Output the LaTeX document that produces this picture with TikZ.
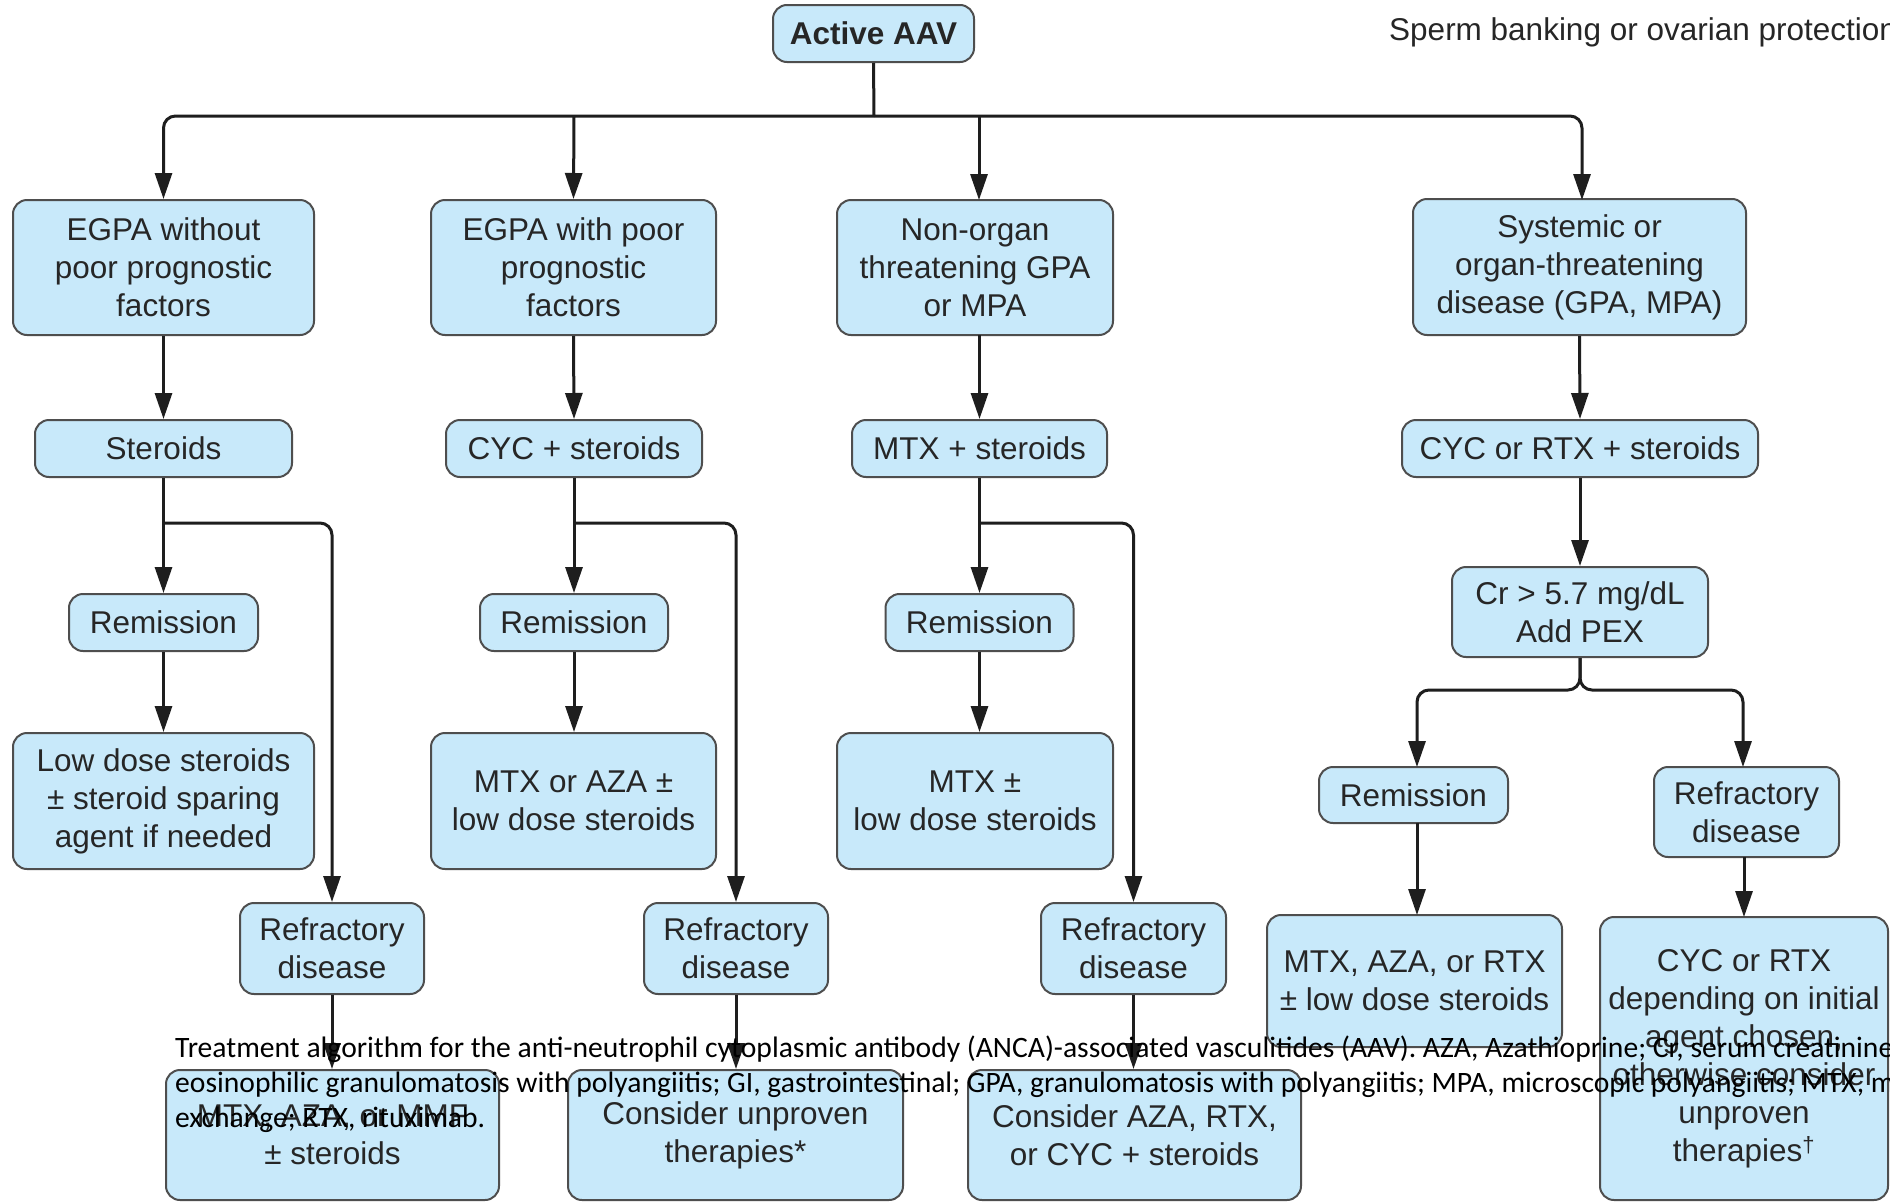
\documentclass[tikz,border=0pt]{standalone}
\usepackage{fontspec}
\setmainfont{Liberation Sans}
\newfontfamily\capfont{Carlito}
\usetikzlibrary{arrows.meta}
\definecolor{boxfill}{HTML}{C8E9FA}
\definecolor{boxline}{HTML}{4E4E4E}
\definecolor{linecol}{HTML}{1E1E1E}
\definecolor{txt}{HTML}{262626}
\begin{document}
\begin{tikzpicture}[x=1pt,y=-1pt,
  bx/.style={draw=boxline, line width=2pt, fill=boxfill, rounded corners=14pt,
    align=center, inner sep=0pt, text=txt, font=\fontsize{31.5}{38}\selectfont},
  boldbx/.style={bx, font=\fontsize{31.5}{38}\selectfont\bfseries},
  arr/.style={draw=linecol, line width=3pt, rounded corners=12pt, -{Triangle[length=26pt,width=17pt]}},
  ln/.style={draw=linecol, line width=3pt, rounded corners=12pt},
  captxt/.style={anchor=base west, inner sep=0pt, text=black, font=\capfont\fontsize{29.6}{35}\selectfont}]
\useasboundingbox (0,0) rectangle (1890,1202);
\clip (0,0) rectangle (1890,1202);
\fill[white] (0,0) rectangle (1890,1202);

% top
\node[boldbx, minimum width=201pt, minimum height=57pt] (act) at (873.5,33.5) {Active AAV};
\node[anchor=base west, inner sep=0pt, text=txt, font=\fontsize{31.5}{38}\selectfont] (sperm) at (1389,40) {Sperm banking or ovarian protection};

% row 1
\node[bx, minimum width=301pt, minimum height=135pt] (b1) at (163.5,267.5) {EGPA without\\poor prognostic\\factors};
\node[bx, minimum width=285pt, minimum height=135pt] (b2) at (573.5,267.5) {EGPA with poor\\prognostic\\factors};
\node[bx, minimum width=276pt, minimum height=135pt] (b3) at (975,267.5) {Non-organ\\threatening GPA\\or MPA};
\node[bx, minimum width=333pt, minimum height=136pt] (b4) at (1579.5,267) {Systemic or\\organ-threatening\\disease (GPA, MPA)\vphantom{g}};

% row 2
\node[bx, minimum width=257pt, minimum height=57pt] (s1) at (163.5,448.5) {Steroids};
\node[bx, minimum width=256pt, minimum height=57pt] (s2) at (574,448.5) {CYC + steroids};
\node[bx, minimum width=255pt, minimum height=57pt] (s3) at (979.5,448.5) {MTX + steroids};
\node[bx, minimum width=356pt, minimum height=57pt] (s4) at (1580,448.5) {CYC or RTX + steroids};

% remission row
\node[bx, minimum width=189pt, minimum height=57pt] (r1) at (163.5,622.5) {Remission};
\node[bx, minimum width=188pt, minimum height=57pt] (r2) at (574,622.5) {Remission};
\node[bx, minimum width=188pt, minimum height=57pt] (r3) at (979.5,622.5) {Remission};

% low dose row
\node[bx, minimum width=301pt, minimum height=136pt] (l1) at (163.5,801) {Low dose steroids\\± steroid sparing\\agent if needed};
\node[bx, minimum width=285pt, minimum height=136pt] (l2) at (573.5,801) {MTX or AZA ±\\low dose steroids};
\node[bx, minimum width=276pt, minimum height=136pt] (l3) at (975,801) {MTX ±\\low dose steroids};

% refractory row
\node[bx, minimum width=184pt, minimum height=91pt] (f1) at (332,948.5) {Refractory\\disease};
\node[bx, minimum width=184pt, minimum height=91pt] (f2) at (736,948.5) {Refractory\\disease};
\node[bx, minimum width=185pt, minimum height=91pt] (f3) at (1133.5,948.5) {Refractory\\disease};

% bottom row
\node[bx, minimum width=333pt, minimum height=130pt] (g1) at (332.5,1135) {MTX, AZA, or MMF\\± steroids};
\node[bx, minimum width=335pt, minimum height=130pt] (g2) at (735.5,1135) {Consider unproven\\therapies*\vphantom{p}};
\node[bx, minimum width=333pt, minimum height=130pt] (g3) at (1134.5,1135) {Consider AZA, RTX,\\or CYC + steroids};

% column 4
\node[bx, minimum width=256pt, minimum height=90pt] (cr) at (1580,612) {Cr > 5.7 mg/dL\\Add PEX};
\node[bx, minimum width=189pt, minimum height=56pt] (rm4) at (1413.5,795) {Remission};
\node[bx, minimum width=185pt, minimum height=90pt] (rf4) at (1746.5,812) {Refractory\\disease};
\node[bx, minimum width=295pt, minimum height=132pt] (m4) at (1414.5,981) {MTX, AZA, or RTX\\± low dose steroids};
\node[bx, minimum width=288pt, minimum height=283pt] (c4) at (1744,1058.5) {CYC or RTX\\depending on initial\\agent chosen,\\otherwise consider\\unproven\\therapies\textsuperscript{†}};

% connectors from top
\coordinate (hub) at (874,116);
\draw[ln] (act.south) -- (hub);
\draw[arr] (hub) -- (163.5,116) -- (b1.north);
\draw[arr] (574,116) -- (b2.north);
\draw[arr] (979,116) -- (979,200);
\draw[arr] (hub) -- (1582,116) -- (1582,200);

% row 1 to row 2
\draw[arr] (b1.south) -- (s1.north);
\draw[arr] (b2.south) -- (s2.north);
\draw[arr] (979.5,335) -- (s3.north);
\draw[arr] (b4.south) -- (s4.north);

% column 1
\draw[arr] (s1.south) -- (r1.north);
\draw[arr] (163.5,523) -- (332,523) -- (f1.north);
\draw[arr] (r1.south) -- (l1.north);
\draw[arr] (f1.south) -- (f1.south |- g1.north);
% column 2
\draw[arr] (s2.south) -- (r2.north);
\draw[arr] (574,523) -- (736,523) -- (f2.north);
\draw[arr] (r2.south) -- (r2.south |- l2.north);
\draw[arr] (f2.south) -- (f2.south |- g2.north);
% column 3
\draw[arr] (s3.south) -- (r3.north);
\draw[arr] (979.5,523) -- (1133.5,523) -- (f3.north);
\draw[arr] (r3.south) -- (r3.south |- l3.north);
\draw[arr] (f3.south) -- (f3.south |- g3.north);
% column 4
\draw[arr] (s4.south) -- (cr.north);
\draw[arr] (cr.south) -- (1580,690) -- (1417,690) -- (1417,767);
\draw[arr] (cr.south) -- (1580,690) -- (1743,690) -- (1743,767);
\draw[arr] (1417,823) -- (1417,915);
\draw[arr] (1744,857) -- (1744,917);

% caption overlay
\node[captxt] (cap1) at (175,1057) {Treatment algorithm for the anti-neutrophil cytoplasmic antibody (ANCA)-associated vasculitides (AAV). AZA, Azathioprine; Cr, serum creatinine; EGPA,};
\node[captxt] (cap2) at (175,1092) {eosinophilic granulomatosis with polyangiitis; GI, gastrointestinal; GPA, granulomatosis with polyangiitis; MPA, microscopic polyangiitis; MTX, methotrexate;};
\node[captxt] (cap3) at (175,1127) {exchange; RTX, rituximab.};
\end{tikzpicture}
\end{document}
